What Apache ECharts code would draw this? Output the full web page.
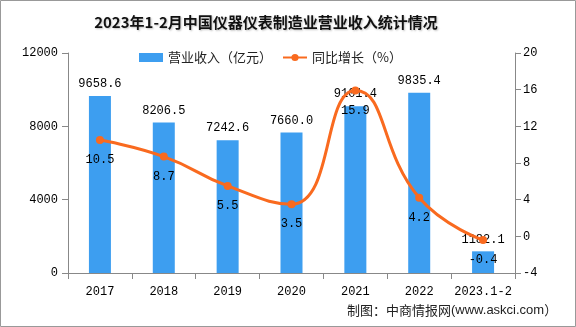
<!DOCTYPE html>
<html><head><meta charset="utf-8">
<script src="https://cdn.jsdelivr.net/npm/echarts@6/dist/echarts.min.js"></script>
<style>html,body{margin:0;padding:0;background:#fff}#c{width:576px;height:327px}</style>
</head><body><div id="c"></div>
<script>
const categories = ['2017','2018','2019','2020','2021','2022','2023.1-2'];
const revenue = [9658.6, 8206.5, 7242.6, 7660.0, 9101.4, 9835.4, 1182.1];
const growth = [10.5, 8.7, 5.5, 3.5, 15.9, 4.2, -0.4];
const leftTicks = {min: 0, max: 12000, interval: 4000};
const rightTicks = {min: -4, max: 20, interval: 4};

const numFont = '"Liberation Mono", "DejaVu Sans Mono", monospace';
const cjkFont = '"Noto Sans CJK SC", sans-serif';
const chart = echarts.init(document.getElementById('c'));
chart.setOption({
  animation: false,
  title: {
    text: '2023年1-2月中国仪器仪表制造业营业收入统计情况',
    left: 261, top: 10, textAlign: 'center',
    textStyle: {fontFamily: cjkFont, fontSize: 15, fontWeight: 'bold', color: '#111',
      textShadowColor: 'rgba(0,0,0,0.25)', textShadowBlur: 2, textShadowOffsetX: 1, textShadowOffsetY: 1}
  },
  legend: {
    top: 46, left: 134, itemGap: 10,
    itemWidth: 24, itemHeight: 9,
    textStyle: {fontFamily: cjkFont, fontSize: 13, color: '#222'},
    data: [
      {name: '营业收入（亿元）', icon: 'rect'},
      {name: '同比增长（%）'}
    ]
  },
  grid: {left: 68, right: 61, top: 53, bottom: 54},
  xAxis: {
    type: 'category', data: categories,
    axisLine: {lineStyle: {color: '#888'}},
    axisTick: {show: true, length: 6, lineStyle: {color: '#888'}},
    axisLabel: {interval: 0, color: '#000', fontFamily: numFont, fontSize: 12, margin: 13}
  },
  yAxis: [
    {type: 'value', min: leftTicks.min, max: leftTicks.max, interval: leftTicks.interval,
     axisLine: {show: true, lineStyle: {color: '#888'}},
     axisTick: {show: true, length: 6, lineStyle: {color: '#888'}},
     splitLine: {show: false},
     axisLabel: {color: '#000', fontFamily: numFont, fontSize: 12, margin: 10, formatter: v => String(v)}},
    {type: 'value', min: rightTicks.min, max: rightTicks.max, interval: rightTicks.interval,
     axisLine: {show: true, lineStyle: {color: '#888'}},
     axisTick: {show: true, length: 6, lineStyle: {color: '#888'}},
     splitLine: {show: false},
     axisLabel: {color: '#000', fontFamily: numFont, fontSize: 12, margin: 8, formatter: v => String(v)}}
  ],
  series: [
    {name: '营业收入（亿元）', type: 'bar', data: revenue, barWidth: 22,
     itemStyle: {color: '#3d9ef0'},
     label: {show: true, position: 'top', distance: 6, color: '#000', fontFamily: numFont, fontSize: 12,
       formatter: p => p.value.toFixed(1)}},
    {name: '同比增长（%）', type: 'line', yAxisIndex: 1, data: growth, smooth: true,
     symbol: 'circle', symbolSize: 8,
     itemStyle: {color: '#f96a1f'}, lineStyle: {color: '#f96a1f', width: 3},
     label: {show: true, position: 'bottom', distance: 10, color: '#000', fontFamily: numFont, fontSize: 12,
       formatter: p => p.value.toFixed(1)}}
  ],
  graphic: [
    {type: 'rect', shape: {x: 0.5, y: 0.5, width: 575, height: 326}, style: {fill: 'none', stroke: '#999', lineWidth: 1}, silent: true},
    {type: 'text', left: 347, top: 304, style: {rich: {a: {fontFamily: cjkFont, fontSize: 13, fill: '#222'}, b: {fontFamily: '"Liberation Sans", sans-serif', fontSize: 13, fill: '#222'}}, text: '{a|制图：中商情报网}{b|(www.askci.com}{a|）}'}}
  ]
});
</script></body></html>
